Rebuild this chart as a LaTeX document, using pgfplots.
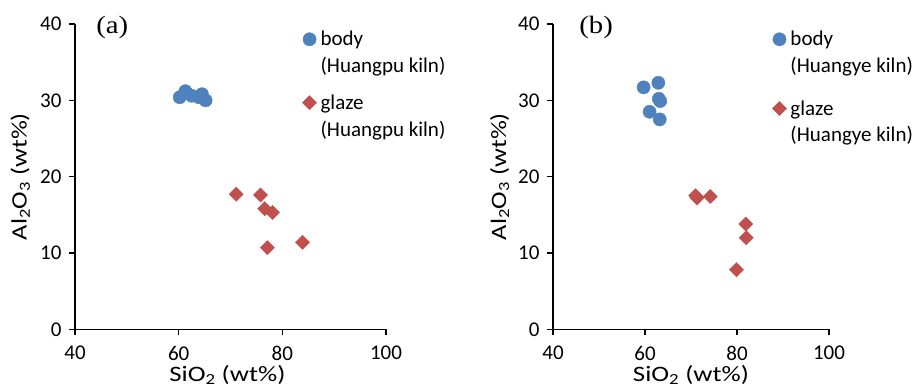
\documentclass[border=0pt]{standalone}
\usepackage{fontspec}
\setmainfont{Carlito}
\newfontfamily\lblx{Carlito}[FakeStretch=1.22]
\newfontfamily\lbly{Carlito}[FakeStretch=1.2]
\newfontfamily\tnr{Liberation Serif}[FakeStretch=1.15]
\usepackage{pgfplots}
\pgfplotsset{compat=1.18}
\definecolor{cblue}{HTML}{4F81BD}
\definecolor{cred}{HTML}{C0504D}
\newcommand{\fs}{\fontsize{21bp}{25bp}\selectfont}
\newcommand{\fl}{\fontsize{22bp}{26bp}\selectfont}
\pgfplotsset{
  panel/.style={
    scale only axis,
    height=305.3bp,
    xmin=40, xmax=100, ymin=0, ymax=40,
    xtick={40,60,80,100}, ytick={0,10,20,30,40},
    axis x line*=bottom, axis y line*=left,
    axis line style={-, line width=1.4bp},
    major tick style={line width=1.4bp, black},
    tick align=outside, major tick length=6bp,
    tick label style={font=\fs},
    xticklabel style={yshift=-7bp},
    yticklabel style={xshift=-4bp},
    /pgf/number format/assume math mode=true,
    xlabel={\lblx SiO\textsubscript{2} (wt\%)},
    ylabel={\lbly Al\textsubscript{2}O\textsubscript{3} (wt\%)},
    xlabel style={font=\fl, anchor=base},
    ylabel style={font=\fl},
    clip=false,
    legend cell align=left,
    legend style={draw=none, fill=none, inner sep=0pt, outer sep=0pt, anchor=north west, font=\fs, row sep=0pt, cells={anchor=base west, inner sep=0pt}, /tikz/every even column/.style={column sep=0pt}},
    legend image code/.code={\path[draw=none] (0bp,0bp) -- (15.5bp,0bp); \draw[##1] plot coordinates {(6.5bp,6.5bp)};},
  },
  body/.style={only marks, mark=*, mark size=6.6bp, color=cblue, mark options={draw=cblue, fill=cblue}},
  glaze/.style={only marks, mark=square*, mark size=5bp, color=cred, mark options={rotate=45, draw=cred, fill=cred}},
}
\pgfplotstableread{
x y
60.2 30.4
61.3 31.2
62.5 30.6
63.9 30.4
64.5 30.8
65.2 30.0
}\bodyA
\pgfplotstableread{
x y
71.1 17.7
75.8 17.6
76.6 15.8
78.1 15.3
77.1 10.7
83.9 11.4
}\glazeA
\pgfplotstableread{
x y
59.7 31.7
62.9 32.3
63.0 30.2
63.3 29.9
61.0 28.5
63.2 27.5
}\bodyB
\pgfplotstableread{
x y
71.0 17.5
71.3 17.2
74.2 17.4
81.9 13.8
82.0 12.0
79.9 7.8
}\glazeB
\begin{document}
\begin{tikzpicture}
\useasboundingbox (0,0) rectangle (915bp,389bp);
\begin{axis}[panel, width=311bp, at={(75bp,59.7bp)}, anchor=south west,
  xlabel style={at={(axis description cs:0.49,-0.1716)}},
  ylabel style={at={(axis description cs:-0.1553,0.5)}, anchor=base},
  legend style={at={(axis description cs:0.7315,0.983)}}]
\addplot[body] table {\bodyA};
\addlegendentry{\rule{0pt}{14bp}body}
\addlegendimage{empty legend}
\addlegendentry{\rule{0pt}{21bp}(Huangpu kiln)}
\addplot[glaze] table {\glazeA};
\addlegendentry{\rule{0pt}{31.5bp}glaze}
\addlegendimage{empty legend}
\addlegendentry{\rule{0pt}{22bp}(Huangpu kiln)}
\node[font=\tnr\fontsize{25bp}{29bp}\selectfont] at (rel axis cs:0.12,1) [yshift=-3bp] {(a)};
\end{axis}
\begin{axis}[panel, width=276bp, at={(553bp,59.7bp)}, anchor=south west,
  xlabel style={at={(axis description cs:0.5,-0.1716)}},
  ylabel style={at={(axis description cs:-0.170,0.5)}, anchor=base},
  legend style={at={(axis description cs:0.795,0.983)}}]
\addplot[body] table {\bodyB};
\addlegendentry{\rule{0pt}{14bp}body}
\addlegendimage{empty legend}
\addlegendentry{\rule{0pt}{21bp}(Huangye kiln)}
\addplot[glaze] table {\glazeB};
\addlegendentry{\rule{0pt}{37.3bp}glaze}
\addlegendimage{empty legend}
\addlegendentry{\rule{0pt}{21bp}(Huangye kiln)}
\node[font=\tnr\fontsize{25bp}{29bp}\selectfont] at (rel axis cs:0.156,1) [yshift=-3bp] {(b)};
\end{axis}
\end{tikzpicture}
\end{document}
